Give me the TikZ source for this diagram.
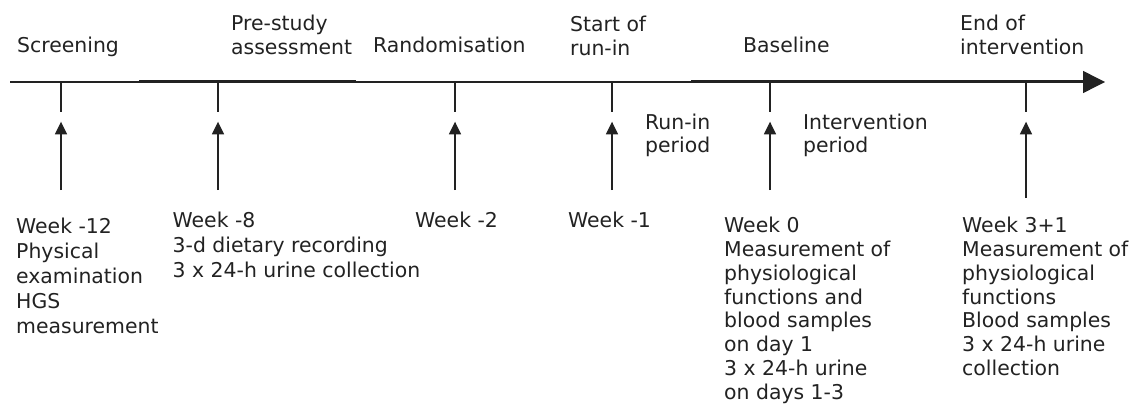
\documentclass[tikz,border=0pt]{standalone}
\usepackage{fontspec}
\setmainfont{DejaVu Sans}
\usetikzlibrary{arrows.meta}
\definecolor{ink}{HTML}{222222}
\begin{document}
\begin{tikzpicture}[x=1pt,y=-1pt,
  lbl/.style={anchor=base west, inner sep=0pt, align=left, text=ink,
              font=\fontsize{20.4}{24.5}\selectfont},
  wide/.style={font=\fontsize{20.4}{25}\selectfont},
  tight/.style={font=\fontsize{20.4}{23.8}\selectfont},
  thinline/.style={draw=ink, line width=1.4pt},
  thickline/.style={draw=ink, line width=3pt},
  mainarrow/.style={draw=ink, line width=1.4pt, -{Triangle[length=22pt,width=22pt]}},
  uparrow/.style={draw=ink, line width=1.4pt, -{Triangle[length=12.6pt,width=12pt]}},
]
\useasboundingbox (0,0) rectangle (1131,406);

% timeline
\coordinate (L) at (10,82);
\coordinate (E) at (1105,82);
\draw[mainarrow] (L) -- (E);
\coordinate (p1) at (139,81.2);
\coordinate (p2) at (356,81.2);
\coordinate (q1) at (691,81.2);
\coordinate (q2) at (1086,81.2);
\draw[thickline] (p1) -- (p2);
\draw[thickline] (q1) -- (q2);

% ticks and arrows
\foreach \n/\x/\b in {1/61/190,2/218/190,3/455/190,4/612/190,5/770/190,6/1026/198}{
  \coordinate (t\n) at (\x,82);
  \coordinate (u\n) at (\x,111.7);
  \coordinate (h\n) at (\x,121.7);
  \coordinate (s\n) at (\x,\b);
  \draw[thinline] (t\n) -- (u\n);
  \draw[uparrow] (s\n) -- (h\n);
}

% top labels
\node[lbl] (screen) at (17,52.7) {Screening};
\node[lbl] (pre1) at (231,31) {Pre-study};
\node[lbl] (pre2) at (231,54.5) {assessment};
\node[lbl] (rand) at (373,52.7) {Randomisation};
\node[lbl] (start1) at (570,31.5) {Start of};
\node[lbl] (start2) at (570,56) {run-in};
\node[lbl] (base) at (743,52.7) {Baseline};
\node[lbl] (end1) at (960,30.7) {End of};
\node[lbl] (end2) at (960,55) {intervention};

% period labels
\node[lbl] (run1) at (645,129.3) {Run-in};
\node[lbl] (run2) at (645,152.7) {period};
\node[lbl] (int1) at (803,129.3) {Intervention};
\node[lbl] (int2) at (803,152.7) {period};

% bottom labels (anchored at the baseline of their last line)
\node[lbl,wide] (w12) at (16,333) {Week -12\\Physical\\examination\\HGS\\measurement};
\node[lbl,wide] (w8) at (172.5,277) {Week -8\\3-d dietary recording\\3 x 24-h urine collection};
\node[lbl] (w2) at (415,227) {Week -2};
\node[lbl] (w1) at (568,227) {Week -1};
\node[lbl,tight] (w0) at (724,399.3) {Week 0\\Measurement of\\physiological\\functions and\\blood samples\\on day 1\\3 x 24-h urine\\on days 1-3};
\node[lbl,tight] (w31) at (962,375.5) {Week 3+1\\Measurement of\\physiological\\functions\\Blood samples\\3 x 24-h urine\\collection};
\end{tikzpicture}
\end{document}
